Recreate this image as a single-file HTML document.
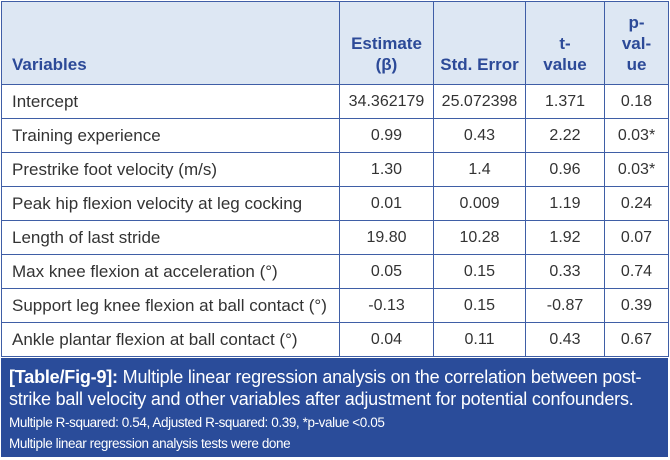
<!DOCTYPE html>
<html><head><style>
body{margin:0;width:670px;height:460px;background:#fff;font-family:"Liberation Sans",sans-serif;position:relative;overflow:hidden}
table{position:absolute;left:1px;top:1px;border-collapse:collapse;width:667px;table-layout:fixed}
tr{height:34px}
tr.h{height:83px}
td,th{border:1.5px solid #3f5ea6;font-size:17px;color:#333;padding:0 0 0 10px;white-space:nowrap}
th{background:#dde7f3;color:#2c4a98;font-weight:bold;vertical-align:bottom;padding-bottom:9px;line-height:21px}
td.c,th.c{text-align:center;padding-left:0;font-size:16px}
th.c{font-size:17px}
.foot{position:absolute;left:1px;top:358px;width:667px;height:99px;background:#2a4c9a;color:#fff;box-sizing:border-box;padding:8px 4px 0 8px}
.f1{font-size:18px;line-height:22px;letter-spacing:-0.2px}
.f2{font-size:13.5px;line-height:21px;margin-top:2px;letter-spacing:-0.4px}
</style></head><body>
<table>
<colgroup><col style="width:338px"><col style="width:94px"><col style="width:92px"><col style="width:79px"><col style="width:64px"></colgroup>
<tr class="h"><th style="text-align:left">Variables</th><th class="c">Estimate<br>(β)</th><th class="c">Std. Error</th><th class="c">t-<br>value</th><th class="c">p-<br>val-<br>ue</th></tr>
<tr><td>Intercept</td><td class="c">34.362179</td><td class="c">25.072398</td><td class="c">1.371</td><td class="c">0.18</td></tr>
<tr><td>Training experience</td><td class="c">0.99</td><td class="c">0.43</td><td class="c">2.22</td><td class="c">0.03*</td></tr>
<tr><td>Prestrike foot velocity (m/s)</td><td class="c">1.30</td><td class="c">1.4</td><td class="c">0.96</td><td class="c">0.03*</td></tr>
<tr><td>Peak hip flexion velocity at leg cocking</td><td class="c">0.01</td><td class="c">0.009</td><td class="c">1.19</td><td class="c">0.24</td></tr>
<tr><td>Length of last stride</td><td class="c">19.80</td><td class="c">10.28</td><td class="c">1.92</td><td class="c">0.07</td></tr>
<tr><td>Max knee flexion at acceleration (°)</td><td class="c">0.05</td><td class="c">0.15</td><td class="c">0.33</td><td class="c">0.74</td></tr>
<tr><td>Support leg knee flexion at ball contact (°)</td><td class="c">-0.13</td><td class="c">0.15</td><td class="c">-0.87</td><td class="c">0.39</td></tr>
<tr><td>Ankle plantar flexion at ball contact (°)</td><td class="c">0.04</td><td class="c">0.11</td><td class="c">0.43</td><td class="c">0.67</td></tr>
</table>
<div class="foot">
<div class="f1"><b>[Table/Fig-9]:</b> Multiple linear regression analysis on the correlation between post-<br>strike ball velocity and other variables after adjustment for potential confounders.</div>
<div class="f2">Multiple R-squared: 0.54, Adjusted R-squared: 0.39, *p-value &lt;0.05<br>Multiple linear regression analysis tests were done</div>
</div>
</body></html>
